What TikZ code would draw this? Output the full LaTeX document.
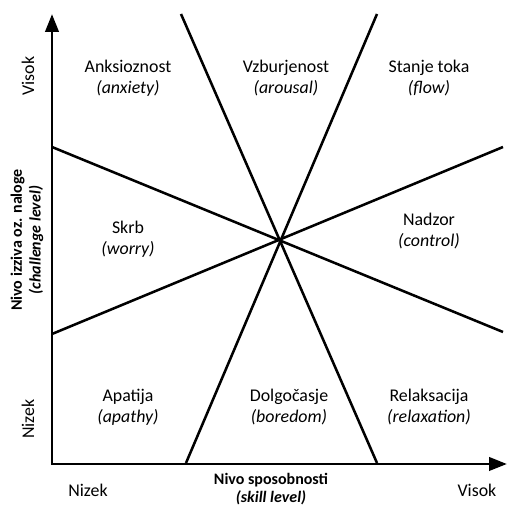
\documentclass[tikz,border=0pt]{standalone}
\usepackage{fontspec}
\setmainfont{Carlito}
\usetikzlibrary{arrows.meta}

\begin{document}
\begin{tikzpicture}[x=0.75pt,y=-0.75pt,
    every node/.style={font=\fontsize{13.4}{15.75}\selectfont, align=center, inner sep=0pt},
    axis/.style={line width=2.2pt, line join=miter, {Triangle[length=13.5pt,width=10pt]}-{Triangle[length=13.5pt,width=10pt]}},
    zone/.style={line width=1.9pt},
    title/.style={font=\fontsize{12}{13.9}\selectfont\bfseries}]
    \useasboundingbox (0,0) rectangle (508,505);
    % axes
    \coordinate (o) at (52,464);
    \coordinate (ytip) at (52,14);
    \coordinate (xtip) at (507,464);
    \draw[axis] (ytip) -- (o) -- (xtip);
    % dividing lines
    \coordinate (a1) at (52,147);
    \coordinate (a2) at (503,332);
    \coordinate (b1) at (52,334);
    \coordinate (b2) at (503,147);
    \coordinate (c1) at (181,14);
    \coordinate (c2) at (377,463);
    \coordinate (d1) at (377,14);
    \coordinate (d2) at (186,463);
    \draw[zone] (a1) -- (a2);
    \draw[zone] (b1) -- (b2);
    \draw[zone] (c1) -- (c2);
    \draw[zone] (d1) -- (d2);
    % states
    \node (anx) at (128,78) {Anksioznost\\\textit{(anxiety)}};
    \node (aro) at (286,78) {Vzburjenost\\\textit{(arousal)}};
    \node (flo) at (429,78) {Stanje toka\\\textit{(flow)}};
    \node (wor) at (128,239) {Skrb\\\textit{(worry)}};
    \node (con) at (429,231) {Nadzor\\\textit{(control)}};
    \node (apa) at (128,407) {Apatija\\\textit{(apathy)}};
    \node (bor) at (289,407) {Dolgočasje\\\textit{(boredom)}};
    \node (rel) at (429,407) {Relaksacija\\\textit{(relaxation)}};
    % axis labels
    \node[rotate=90] (yhi) at (28,76) {Visok};
    \node[rotate=90] (ylo) at (28,419) {Nizek};
    \node (xlo) at (88,490) {Nizek};
    \node (xhi) at (477,490) {Visok};
    \node[title, rotate=90] (ytitle) at (27,240) {Nivo izziva oz. naloge\\\textit{(challenge level)}};
    \node[title] (xtitle) at (271,489) {Nivo sposobnosti\\\textit{(skill level)}};
\end{tikzpicture}
\end{document}
